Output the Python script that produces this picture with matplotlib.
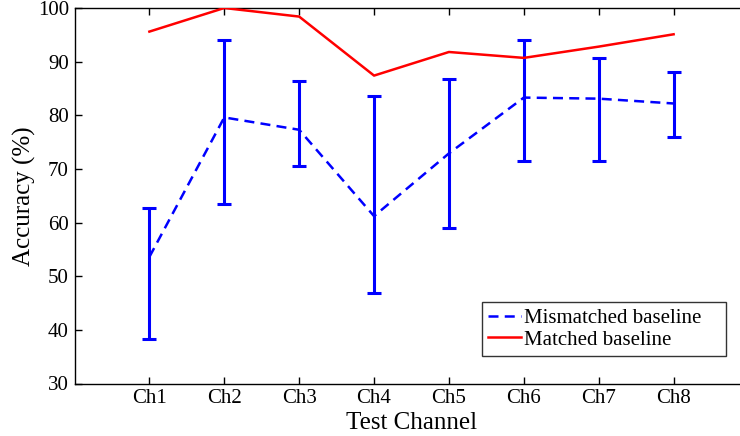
import matplotlib
matplotlib.use("Agg")
import matplotlib.pyplot as plt
from matplotlib.lines import Line2D

channels = ["Ch1", "Ch2", "Ch3", "Ch4", "Ch5", "Ch6", "Ch7", "Ch8"]
mismatched = [53.6, 79.6, 77.3, 61.2, 72.9, 83.3, 83.1, 82.2]
mismatched_low = [38.3, 63.4, 70.5, 46.9, 58.9, 71.5, 71.5, 76.0]
mismatched_high = [62.8, 94.0, 86.3, 83.6, 86.8, 94.0, 90.7, 88.0]
matched = [95.6, 100.0, 98.4, 87.4, 91.8, 90.7, 92.8, 95.1]

plt.rcParams['font.family'] = ['Liberation Serif', 'DejaVu Serif']
plt.rcParams['mathtext.fontset'] = 'stix'

fig = plt.figure(figsize=(7.4, 4.36), dpi=100)
W, H = 740, 436
left, right, top, bottom = 74.5, 748.5, 8, 383.5
ax = fig.add_axes([left / W, 1 - bottom / H, (right - left) / W, (bottom - top) / H])

x = list(range(1, len(channels) + 1))
yerr = [[m - l for m, l in zip(mismatched, mismatched_low)],
        [h - m for m, h in zip(mismatched, mismatched_high)]]

blue = (0, 0, 1)
red = (1, 0, 0)
dash = (0, (4, 2.5))
ax.errorbar(x, mismatched, yerr=yerr, color=blue, ls=dash, lw=1.8,
            elinewidth=2.2, capsize=5, capthick=2.2, zorder=3)
ax.plot(x, matched, color=red, lw=1.8, zorder=3)

ax.set_xlim(0, 9)
ax.set_ylim(30, 100)
ax.set_xticks(x)
ax.set_xticklabels(channels)
ax.set_yticks(range(30, 101, 10))
ax.tick_params(direction='in', top=True, right=True, labelsize=15, length=5, width=1, pad=4)
for s in ax.spines.values():
    s.set_linewidth(1.0)

ax.set_xlabel("Test Channel", fontsize=18, labelpad=3)
ax.set_ylabel("Accuracy (%)", fontsize=18, labelpad=1)

handles = [Line2D([], [], color=blue, ls=dash, lw=1.8),
           Line2D([], [], color=red, lw=1.8)]
labels = ["Mismatched baseline", "Matched baseline"]
leg = ax.legend(handles, labels, loc='lower left', mode='expand',
                bbox_to_anchor=(482 / W, 1 - 356 / H, 244 / W, 52 / H),
                bbox_transform=fig.transFigure, fontsize=15, frameon=True,
                fancybox=False, edgecolor='black', handlelength=1.55,
                handletextpad=0.15, borderpad=0.3, labelspacing=0.1, borderaxespad=0)
leg.get_frame().set_linewidth(1.0)

fig.savefig("out.png", dpi=100)
